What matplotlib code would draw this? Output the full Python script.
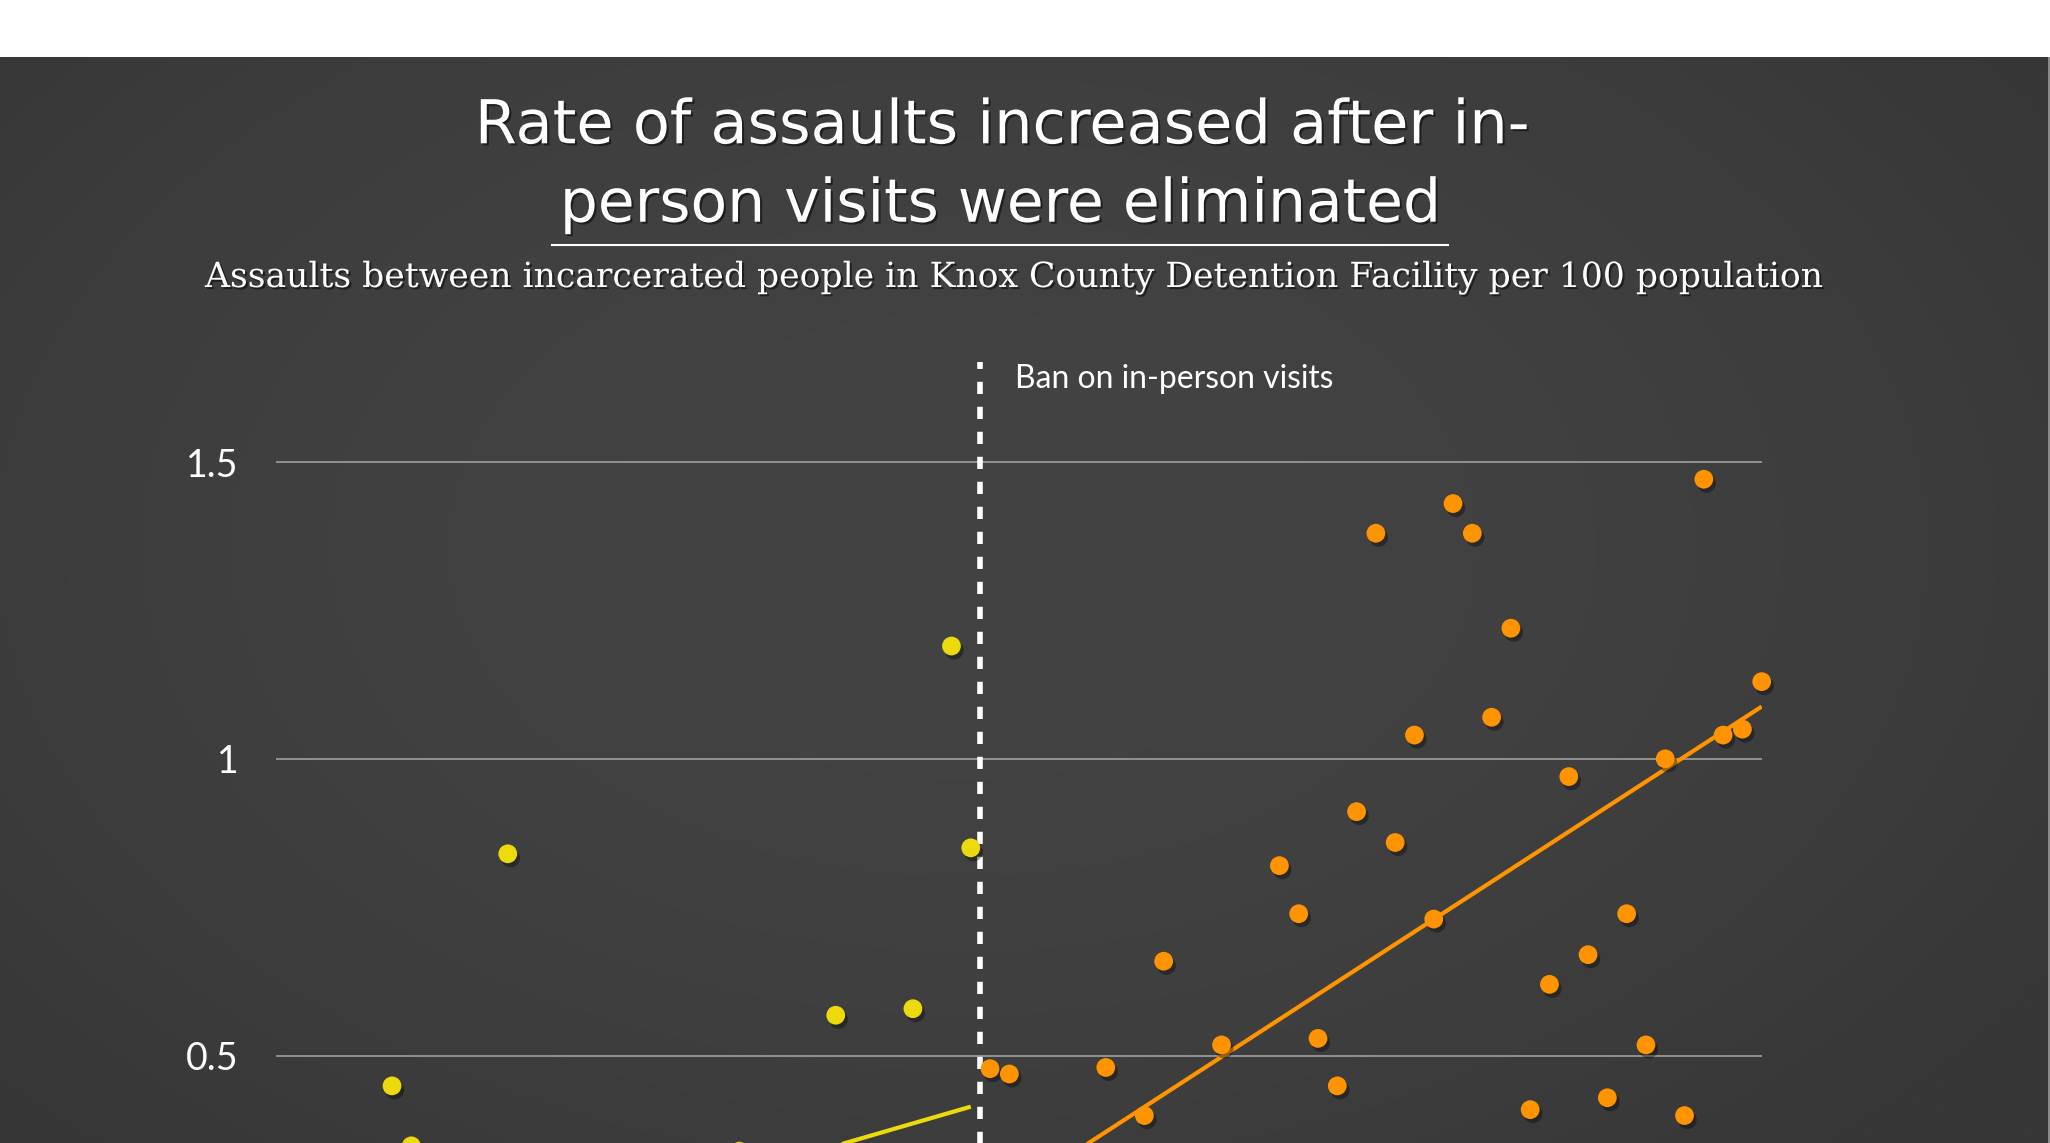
import numpy as np
import matplotlib
matplotlib.use("Agg")
import matplotlib.pyplot as plt
import matplotlib.patheffects as pe
from matplotlib.patches import Rectangle
from matplotlib.lines import Line2D

# ---------------- data (month index relative to ban; 0 = last month before ban) ----------------
pre_month = [-30, -29, -24, -12, -7, -3, -1, 0]
pre_rate = [0.449, 0.348, 0.840, 0.339, 0.568, 0.579, 1.190, 0.850]

post_month = [1, 2, 7, 9, 10, 13, 16, 17, 18, 19, 20, 21, 22, 23, 24, 25,
              26, 27, 28, 29, 30, 31, 32, 33, 34, 35, 36, 37, 38, 39, 40, 41]
post_rate = [0.478, 0.469, 0.480, 0.399, 0.659, 0.518, 0.820, 0.739, 0.529, 0.449,
             0.911, 1.380, 0.859, 1.040, 0.730, 1.430, 1.380, 1.070, 1.220, 0.409,
             0.620, 0.970, 0.670, 0.429, 0.739, 0.518, 1.000, 0.399, 1.471, 1.040,
             1.050, 1.130]

pre_trend_month = [-36, 0]
pre_trend_rate = [0.075, 0.414]
post_trend_month = [1, 41]
post_trend_rate = [0.245, 1.088]

ban_month = 0.5
ytick_values = [0.5, 1.0, 1.5]
ytick_labels = ["0.5", "1", "1.5"]

title_line1 = "Rate of assaults increased after in-"
title_line2 = "person visits were eliminated"
subtitle = "Assaults between incarcerated people in Knox County Detention Facility per 100 population"
ban_label = "Ban on in-person visits"

YELLOW = "#ECDA0C"
ORANGE = "#FF9400"
GRID = "#a8a8a8"

W, H = 2050, 1143
fig = plt.figure(figsize=(W / 100, H / 100), dpi=100, facecolor="white")

# ---------------- background with soft vignette ----------------
dark_top = 1086.0
bg = fig.add_axes([0, 0, 2048 / W, dark_top / H], zorder=-10)
ny, nx = 300, 540
yy, xx = np.mgrid[0:1:ny * 1j, 0:1:nx * 1j]
r = np.sqrt(((xx - 0.47) / 0.62) ** 2 + ((yy - 0.45) / 0.75) ** 2)
c_in, c_out = 0x43, 0x37
val = c_in + (c_out - c_in) * np.clip(r, 0, 1) ** 2
img = np.dstack([val, val, val]) / 255.0
bg.imshow(img, aspect="auto", extent=[0, 1, 0, 1], origin="upper", interpolation="bilinear")
bg.set_axis_off()
fig.patches.append(Rectangle((2048 / W, 0), 2 / W, dark_top / H, transform=fig.transFigure,
                             facecolor="#8a8a8a", edgecolor="none", zorder=-5))

# ---------------- main axes ----------------
x_left, x_right = 276.3, 1761.7
y0_px, ytop_px = 1352.4, 361.7
ax = fig.add_axes([x_left / W, 1 - y0_px / H, (x_right - x_left) / W, (y0_px - ytop_px) / H])
ax.set_facecolor("none")
ax.set_xlim(-36, 41)
ax.set_ylim(0, 1.669)
for s in ax.spines.values():
    s.set_visible(False)
ax.set_xticks([])
ax.set_yticks(ytick_values)
ax.set_yticklabels(ytick_labels)
ax.tick_params(axis="y", length=0, pad=27, labelcolor="white", labelsize=27)
for lab in ax.get_yticklabels():
    lab.set_fontfamily("Lato")

for v in ytick_values:
    ax.axhline(v, color=GRID, lw=1.1, zorder=1)

ax.axvline(ban_month, color="white", lw=4.0, linestyle=(0, (2.2, 2.3)), zorder=3)

ax.plot(pre_trend_month, pre_trend_rate, color=YELLOW, lw=3.0, zorder=4, solid_capstyle="butt")
ax.plot(post_trend_month, post_trend_rate, color=ORANGE, lw=3.0, zorder=4, solid_capstyle="butt")

shadow = [pe.SimplePatchShadow(offset=(2, -3), shadow_rgbFace="black", alpha=0.35), pe.Normal()]
ax.plot(pre_month, pre_rate, "o", color=YELLOW, ms=13.5, mec="none", zorder=5,
        path_effects=shadow, clip_on=False)
ax.plot(post_month, post_rate, "o", color=ORANGE, ms=13.5, mec="none", zorder=5,
        path_effects=shadow, clip_on=False)

ban_txt = ax.text(2.29, 1.625, ban_label, color="white", fontsize=22, family="Lato",
                  ha="left", va="baseline", zorder=6)

# ---------------- titles ----------------
tshadow = [pe.withSimplePatchShadow(offset=(1.5, -1.5), shadow_rgbFace="black", alpha=0.5)]
t1 = fig.text(1002 / W, 1 - 143.3 / H, title_line1, color="white", fontsize=43, family="DejaVu Sans",
              ha="center", va="baseline", path_effects=tshadow)
t2 = fig.text(1000 / W, 1 - 221.7 / H, title_line2, color="white", fontsize=43, family="DejaVu Sans",
              ha="center", va="baseline", path_effects=tshadow)
st = fig.text(1014 / W, 1 - 287 / H, subtitle, color="white", fontsize=27, family="DejaVu Serif",
              ha="center", va="baseline", path_effects=tshadow)
fig.lines.append(Line2D([551.6 / W, 1448 / W], [1 - 245 / H, 1 - 245 / H], transform=fig.transFigure,
                        color="white", lw=1.5))

# fit text widths to the reference
fig.canvas.draw()
rend = fig.canvas.get_renderer()
for t, target in [(t1, 1055), (t2, 881), (st, 1618), (ban_txt, 318)]:
    w = t.get_window_extent(rend).width
    t.set_fontsize(t.get_fontsize() * target / w)

fig.savefig("out.png", dpi=100, facecolor="white")
